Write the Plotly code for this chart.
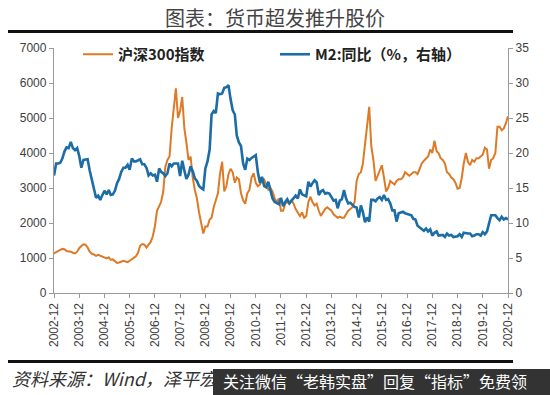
import pandas as pd
import plotly.graph_objects as go

# ---------------- data (monthly, 2002-12 .. 2020-12) ----------------
hs300 = [
    1130,
    1170, 1200, 1230, 1260, 1250, 1200, 1200, 1180, 1150, 1130, 1180, 1280,   # 2003
    1340, 1390, 1380, 1300, 1180, 1120, 1100, 1060, 1090, 1060, 1030, 1000,   # 2004
    990, 1020, 950, 960, 900, 860, 870, 900, 920, 900, 880, 920,              # 2005
    970, 1020, 1050, 1150, 1350, 1400, 1380, 1300, 1380, 1460, 1620, 1900,    # 2006
    2350, 2500, 2600, 2900, 3600, 3800, 3900, 4700, 5400, 5850, 5000, 5200,   # 2007
    5600, 4700, 4300, 3800, 3900, 3300, 2950, 2700, 2300, 2000, 1700, 1900,   # 2008
    1900, 2100, 2150, 2450, 2650, 2850, 3400, 3750, 2900, 3050, 3400, 3550,   # 2009
    3450, 3150, 3300, 3250, 2850, 2650, 2550, 2850, 2950, 3300, 3420, 3150,   # 2010
    3050, 3100, 3250, 3250, 3100, 2950, 3000, 2900, 2700, 2600, 2700, 2350,   # 2011
    2350, 2550, 2600, 2550, 2650, 2550, 2400, 2300, 2200, 2300, 2150, 2200,   # 2012
    2600, 2750, 2600, 2500, 2550, 2350, 2200, 2300, 2400, 2450, 2400, 2350,   # 2013
    2250, 2200, 2150, 2180, 2150, 2150, 2250, 2350, 2400, 2450, 2600, 3200,   # 2014
    3400, 3450, 3700, 4300, 4700, 5320, 4200, 3800, 3200, 3350, 3550, 3650,   # 2015
    3300, 2900, 3000, 3200, 3150, 3100, 3200, 3250, 3250, 3300, 3450, 3400,   # 2016
    3350, 3400, 3450, 3450, 3400, 3550, 3700, 3780, 3830, 3900, 4100, 4000,   # 2017
    4350, 4050, 4000, 3850, 3800, 3700, 3450, 3400, 3300, 3250, 3150, 2980,   # 2018
    3000, 3300, 3700, 4000, 3750, 3650, 3800, 3750, 3850, 3850, 3900, 3950,   # 2019
    4150, 4100, 3550, 3800, 3850, 4000, 4750, 4750, 4650, 4700, 4850, 5050,   # 2020
]

m2_yoy = [
    16.8,
    18.5, 18.5, 18.6, 19.2, 20.2, 20.8, 20.7, 21.6, 20.7, 20.4, 20.7, 19.6,   # 2003
    17.9, 19.0, 19.1, 19.1, 17.5, 16.2, 15.3, 13.6, 13.9, 13.3, 14.0, 14.6,   # 2004
    14.1, 14.7, 14.0, 14.1, 14.6, 15.7, 16.3, 17.3, 17.9, 17.9, 18.3, 17.6,   # 2005
    19.2, 18.8, 18.8, 18.9, 19.1, 18.4, 18.4, 17.9, 16.8, 17.1, 16.8, 16.9,   # 2006
    15.9, 17.8, 17.3, 17.1, 16.7, 17.1, 18.5, 18.1, 18.5, 18.5, 18.5, 16.7,   # 2007
    18.9, 17.5, 16.3, 16.9, 18.1, 17.4, 16.4, 16.0, 15.3, 15.0, 14.8, 17.8,   # 2008
    18.8, 20.5, 25.5, 26.0, 25.7, 28.5, 28.4, 28.5, 29.3, 29.4, 29.7, 27.7,   # 2009
    26.1, 25.5, 22.5, 21.5, 21.0, 18.5, 17.6, 19.2, 19.0, 19.3, 19.5, 19.7,   # 2010
    17.2, 15.7, 16.6, 15.3, 15.1, 15.9, 14.7, 13.5, 13.0, 12.9, 12.7, 13.6,   # 2011
    12.4, 13.0, 13.4, 12.8, 13.2, 13.6, 13.9, 13.5, 14.8, 14.1, 13.9, 13.8,   # 2012
    15.9, 15.2, 15.7, 16.1, 15.8, 14.0, 14.5, 14.7, 14.2, 14.3, 14.2, 13.6,   # 2013
    13.2, 13.3, 12.1, 13.2, 13.4, 14.7, 13.5, 12.8, 12.9, 12.6, 12.3, 12.2,   # 2014
    10.8, 12.5, 11.6, 10.1, 10.8, 10.2, 13.3, 13.3, 13.1, 13.5, 13.7, 13.3,   # 2015
    14.0, 13.3, 13.4, 12.8, 11.8, 11.8, 10.2, 11.4, 11.5, 11.6, 11.4, 11.3,   # 2016
    11.3, 11.1, 10.6, 10.5, 9.6, 9.4, 9.2, 8.9, 9.2, 8.8, 9.1, 8.2,           # 2017
    8.6, 8.8, 8.2, 8.3, 8.3, 8.0, 8.5, 8.2, 8.3, 8.0, 8.0, 8.1,               # 2018
    8.4, 8.0, 8.6, 8.5, 8.5, 8.5, 8.1, 8.2, 8.4, 8.4, 8.2, 8.7,               # 2019
    8.4, 8.8, 10.1, 11.1, 11.1, 11.1, 10.7, 10.4, 10.9, 10.5, 10.7, 10.5,     # 2020
]

months = pd.date_range(start="2002-12-01", periods=len(hs300), freq="MS")

tick_labels = ["2002-12", "2003-12", "2004-12", "2005-12", "2006-12", "2007-12",
               "2008-12", "2009-12", "2010-12", "2011-12", "2012-12", "2013-12",
               "2014-12", "2015-12", "2016-12", "2017-12", "2018-12", "2019-12",
               "2020-12"]
tick_dates = [pd.Timestamp(t + "-01") for t in tick_labels]

name_hs = "沪深300指数"
name_m2 = "M2:同比（%，右轴）"
title_text = "图表：货币超发推升股价"
source_text = "资料来源：Wind，泽平宏观"
overlay_text = "关注微信“老韩实盘”回复“指标”免费领"

ORANGE = "#DD7A26"
BLUE = "#1C6CA5"
TICK = "#404040"
AXIS = "#9A9A9A"
CJK = "Noto Sans CJK SC"
LAT = "Liberation Sans"

L, R, T, B = 54, 42, 48, 102
PW, PH = 550 - L - R, 395 - T - B


def px(x):
    return (x - L) / PW


def py(y):
    return (395 - B - y) / PH


fig = go.Figure()
fig.add_trace(go.Scatter(x=months, y=hs300, name="<b>" + name_hs + "</b>", mode="lines",
                         line=dict(color=ORANGE, width=2), yaxis="y"))
fig.add_trace(go.Scatter(x=months, y=m2_yoy, name="<b>" + name_m2 + "</b>", mode="lines",
                         line=dict(color=BLUE, width=2.6), yaxis="y2"))

fig.update_layout(
    width=550, height=395,
    margin=dict(l=L, r=R, t=T, b=B, autoexpand=False),
    paper_bgcolor="white", plot_bgcolor="white",
    showlegend=True,
    legend=dict(orientation="h", x=px(78), y=py(38), xanchor="left", yanchor="top",
                font=dict(family=CJK, size=15, color="#222"),
                entrywidth=152, entrywidthmode="pixels",
                bgcolor="rgba(0,0,0,0)", itemwidth=30),
    xaxis=dict(
        range=[months[0], months[-1]],
        tickmode="array", tickvals=tick_dates, ticktext=tick_labels,
        tickangle=-90, tickfont=dict(family=LAT, size=12, color=TICK),
        showgrid=False, zeroline=False,
        showline=True, linecolor=AXIS, linewidth=1.3,
        ticks="outside", ticklen=4, tickcolor=AXIS,
    ),
    yaxis=dict(
        range=[0, 7000], dtick=1000, tick0=0,
        tickfont=dict(family=LAT, size=12, color=TICK),
        showgrid=False, zeroline=False,
        showline=True, linecolor=AXIS, linewidth=1.3,
        ticks="outside", ticklen=4, tickcolor=AXIS,
    ),
    yaxis2=dict(
        range=[0, 35], dtick=5, tick0=0, overlaying="y", side="right",
        tickfont=dict(family=LAT, size=12, color=TICK),
        showgrid=False, zeroline=False,
        showline=True, linecolor=AXIS, linewidth=1.3,
        ticks="outside", ticklen=4, tickcolor=AXIS,
    ),
)

# title and rules
fig.add_annotation(text=title_text, xref="paper", yref="paper",
                   x=px(275), y=py(17), xanchor="center", yanchor="middle",
                   showarrow=False, font=dict(family=CJK, size=20, color="#444"))
fig.add_shape(type="line", xref="paper", yref="paper",
              x0=px(8), x1=px(513), y0=py(31.5), y1=py(31.5),
              line=dict(color="#111", width=3))
fig.add_shape(type="line", xref="paper", yref="paper",
              x0=px(8), x1=px(513), y0=py(361.5), y1=py(361.5),
              line=dict(color="#111", width=3))

# source line
fig.add_annotation(text="<i>" + source_text + "</i>", xref="paper", yref="paper",
                   x=px(10), y=py(378), xanchor="left", yanchor="middle",
                   showarrow=False, font=dict(family=CJK, size=18, color="#333"))

# dark overlay banner
fig.add_shape(type="rect", xref="paper", yref="paper",
              x0=px(213), x1=px(552), y0=py(397), y1=py(369),
              fillcolor="rgba(40,40,40,0.95)", line=dict(width=0))
fig.add_annotation(text=overlay_text, xref="paper", yref="paper",
                   x=px(221), y=py(381), xanchor="left", yanchor="middle",
                   showarrow=False, font=dict(family=CJK, size=16, color="white"))

fig.write_html("out.html",
               config={"displayModeBar": False},
               post_script="document.body.style.margin='0';document.body.style.overflow='hidden';")
